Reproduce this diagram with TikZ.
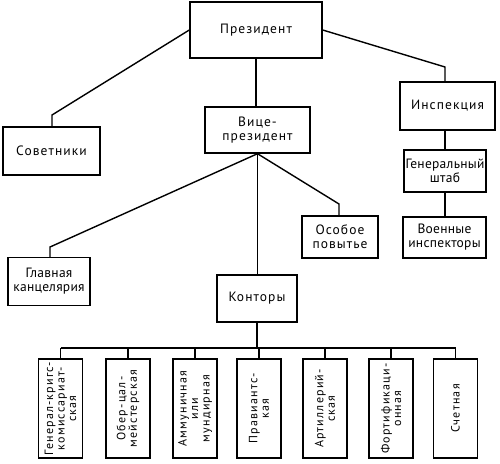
\documentclass[tikz,border=0pt]{standalone}
\usepackage{fontspec}
\setmainfont{PT Sans}[LetterSpace=8]
\def\busy{348}
\def\depty{408.5}
\tikzset{
   orgnode/.style={draw=black, line width=1.4pt, fill=white, align=center, inner sep=1pt, font=\fontsize{13.5}{14}\selectfont},
   tightnode/.style={orgnode, inner sep=0pt, font=\fontsize{13.5}{14}\selectfont\addfontfeatures{LetterSpace=2}},
   deptnode/.style={orgnode, rotate=90, minimum width=99pt, minimum height=44pt, font=\fontsize{12}{11.5}\selectfont\addfontfeatures{LetterSpace=10}},
   orgline/.style={line width=1.4pt}
}

\begin{document}
\begin{tikzpicture}[x=1pt, y=-1pt]
\useasboundingbox (0,0) rectangle (500,463);
\node[orgnode, minimum width=132pt, minimum height=56pt] (pres) at (256,30) {Президент};
\node[orgnode, minimum width=97pt, minimum height=48pt] (sov) at (51.5,151) {Советники};
\node[orgnode, minimum width=95pt, minimum height=48pt] (insp) at (447.5,106) {Инспекция};
\node[tightnode, minimum width=82pt, minimum height=42pt] (genst) at (445,171) {Генеральный\\штаб};
\node[tightnode, minimum width=83pt, minimum height=41pt] (voen) at (444.5,237.5) {Военные\\инспекторы};
\node[orgnode, minimum width=105pt, minimum height=46pt] (vice) at (257.5,130) {Вице-\\президент};
\node[tightnode, minimum width=82pt, minimum height=48pt] (glav) at (49,281.5) {Главная\\канцелярия};
\node[orgnode, minimum width=80pt, minimum height=47pt] (kont) at (257,298.5) {Конторы};
\node[orgnode, minimum width=76pt, minimum height=42pt] (osob) at (340,237) {Особое\\повытье};

\coordinate (sovbend) at (52,115);
\coordinate (inspbend) at (445,67);
\coordinate (glavbend) at (50,247);
\coordinate (osobbend) at (339,204);
\coordinate (busleft) at (60.5,\busy);
\coordinate (busright) at (455.5,\busy);

\draw[orgline] (pres.west) -- (sovbend) -- (sovbend |- sov.north);
\draw[orgline] (pres.east) -- (inspbend) -- (inspbend |- insp.north);
\draw[orgline] (pres.south) -- (pres.south |- vice.north);
\draw[orgline] (genst.north |- insp.south) -- (genst.north);
\draw[orgline] (genst.south) -- (genst.south |- voen.north);
\draw[orgline] (vice.south) -- (glavbend) -- (glavbend |- glav.north);
\draw[orgline] (vice.south) -- (vice.south |- kont.north);
\draw[orgline] (vice.south) -- (osobbend) -- (osobbend |- osob.north);
\draw[orgline] (kont.south) -- (kont.south |- busleft);
\draw[orgline] (busleft) -- (busright);

\foreach \i/\x/\txt in {1/60.5/{Генерал-кригс-\\комиссариат-\\ская},
                        2/128/{Обер-цал-\\мейстерская},
                        3/195/{Аммуничная\\или\\мундирная},
                        4/259/{Правиантс-\\кая},
                        5/325/{Артиллерий-\\ская},
                        6/391/{Фортификаци-\\онная},
                        7/455.5/{Счетная}} {
    \node[deptnode] (dept\i) at (\x,\depty) {\txt};
    \draw[orgline] (dept\i.east |- busleft) -- (dept\i.east);
}
\end{tikzpicture}
\end{document}
